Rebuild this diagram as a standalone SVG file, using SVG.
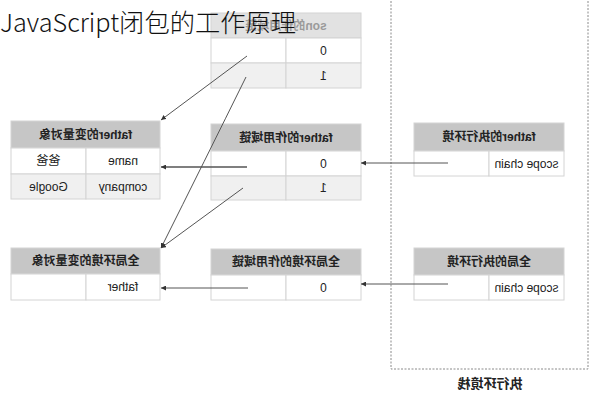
<svg xmlns="http://www.w3.org/2000/svg" width="592" height="400" viewBox="0 0 592 400">
<style>
.hd{fill:#c6c6c6;stroke:#d4d4d4;stroke-width:1}
.r0{fill:#ffffff;stroke:#d4d4d4;stroke-width:1}
.r1{fill:#f0f0f0;stroke:#d4d4d4;stroke-width:1}
.ht{font-family:"Liberation Sans","Noto Sans CJK SC",sans-serif;font-size:12px;font-weight:bold;fill:#222;text-anchor:middle;dominant-baseline:central}
.ct{font-family:"Liberation Sans","Noto Sans CJK SC",sans-serif;font-size:12px;fill:#222;text-anchor:middle;dominant-baseline:central}
.ln{stroke:#555;stroke-width:1;fill:none}
.title{font-family:"Noto Sans CJK SC","Noto Sans",sans-serif;font-size:25px;font-weight:300;fill:#111}
</style>
<defs>
<marker id="ah" markerUnits="userSpaceOnUse" markerWidth="5" markerHeight="5" refX="5" refY="2.5" orient="auto">
<path d="M0,0 L5,2.5 L0,5 z" fill="#333"/>
</marker>
</defs>
<rect width="592" height="400" fill="#ffffff"/>

<g id="stack">
<rect x="391" y="-5" width="197" height="374" fill="none" stroke="#8a8a8a" stroke-width="1" stroke-dasharray="2,1.5"/>
<text class="ht" transform="translate(490 0) scale(-1 1)" x="0" y="383" style="font-size:13px">执行环境栈</text>
</g>

<g id="son-scope">
<rect class="hd" x="211" y="13" width="150" height="25" style="fill:#e2e2e2"/>
<rect class="r0" x="211" y="38" width="75" height="25"/>
<rect class="r0" x="286" y="38" width="75" height="25"/>
<rect class="r1" x="211" y="63" width="75" height="25"/>
<rect class="r1" x="286" y="63" width="75" height="25"/>
<text class="ht" transform="translate(286 0) scale(-1 1)" x="0" y="25.5" style="fill:#9a9a9a">son的作用域链</text>
<text class="ct" transform="translate(323.5 0) scale(-1 1)" x="0" y="51">0</text>
<text class="ct" transform="translate(323.5 0) scale(-1 1)" x="0" y="75.5">1</text>
</g>

<g id="father-vo">
<rect class="hd" x="11" y="121" width="149" height="27"/>
<rect class="r0" x="11" y="148" width="75" height="26"/>
<rect class="r0" x="86" y="148" width="74" height="26"/>
<rect class="r1" x="11" y="174" width="75" height="25"/>
<rect class="r1" x="86" y="174" width="74" height="25"/>
<text class="ht" transform="translate(85.5 0) scale(-1 1)" x="0" y="135">father的变量对象</text>
<text class="ct" transform="translate(123 0) scale(-1 1)" x="0" y="161">name</text>
<text class="ct" transform="translate(48.5 0) scale(-1 1)" x="0" y="161">爸爸</text>
<text class="ct" transform="translate(123 0) scale(-1 1)" x="0" y="186.5">company</text>
<text class="ct" transform="translate(48.5 0) scale(-1 1)" x="0" y="186.5">Google</text>
</g>

<g id="father-scope">
<rect class="hd" x="211" y="124" width="150" height="27"/>
<rect class="r0" x="211" y="151" width="75" height="25"/>
<rect class="r0" x="286" y="151" width="75" height="25"/>
<rect class="r1" x="211" y="176" width="75" height="24"/>
<rect class="r1" x="286" y="176" width="75" height="24"/>
<text class="ht" transform="translate(286 0) scale(-1 1)" x="0" y="137.5">father的作用域链</text>
<text class="ct" transform="translate(323.5 0) scale(-1 1)" x="0" y="163.5">0</text>
<text class="ct" transform="translate(323.5 0) scale(-1 1)" x="0" y="188">1</text>
</g>

<g id="father-ec">
<rect class="hd" x="414" y="123" width="150" height="28"/>
<rect class="r0" x="414" y="151" width="75" height="25"/>
<rect class="r0" x="489" y="151" width="75" height="25"/>
<text class="ht" transform="translate(489 0) scale(-1 1)" x="0" y="137">father的执行环境</text>
<text class="ct" transform="translate(526.5 0) scale(-1 1)" x="0" y="163.5">scope chain</text>
</g>

<g id="global-vo">
<rect class="hd" x="11" y="248" width="149" height="26"/>
<rect class="r0" x="11" y="274" width="75" height="26"/>
<rect class="r0" x="86" y="274" width="74" height="26"/>
<text class="ht" transform="translate(85.5 0) scale(-1 1)" x="0" y="261">全局环境的变量对象</text>
<text class="ct" transform="translate(123 0) scale(-1 1)" x="0" y="287">father</text>
</g>

<g id="global-scope">
<rect class="hd" x="211" y="249" width="150" height="26"/>
<rect class="r0" x="211" y="275" width="75" height="25"/>
<rect class="r0" x="286" y="275" width="75" height="25"/>
<text class="ht" transform="translate(286 0) scale(-1 1)" x="0" y="262">全局环境的作用域链</text>
<text class="ct" transform="translate(323.5 0) scale(-1 1)" x="0" y="287.5">0</text>
</g>

<g id="global-ec">
<rect class="hd" x="414" y="248" width="150" height="27"/>
<rect class="r0" x="414" y="275" width="75" height="25"/>
<rect class="r0" x="489" y="275" width="75" height="25"/>
<text class="ht" transform="translate(489 0) scale(-1 1)" x="0" y="261.5">全局的执行环境</text>
<text class="ct" transform="translate(526.5 0) scale(-1 1)" x="0" y="287.5">scope chain</text>
</g>

<g id="connectors">
<line class="ln" x1="247" y1="56" x2="161" y2="120" marker-end="url(#ah)"/>
<path class="ln" d="M246,77 Q205,160 161,248" marker-end="url(#ah)"/>
<line class="ln" x1="243" y1="188" x2="161" y2="248" marker-end="url(#ah)"/>
<line class="ln" x1="247" y1="167" x2="161" y2="167" style="stroke-width:1.5" marker-end="url(#ah)"/>
<line class="ln" x1="248" y1="288" x2="161" y2="288" marker-end="url(#ah)"/>
<line class="ln" x1="448" y1="163" x2="361" y2="163" marker-end="url(#ah)"/>
<line class="ln" x1="448" y1="284" x2="361" y2="284" marker-end="url(#ah)"/>
</g>

<g id="title">
<text class="title" x="0" y="32" textLength="296" lengthAdjust="spacingAndGlyphs">JavaScript闭包的工作原理</text>
</g>
</svg>
